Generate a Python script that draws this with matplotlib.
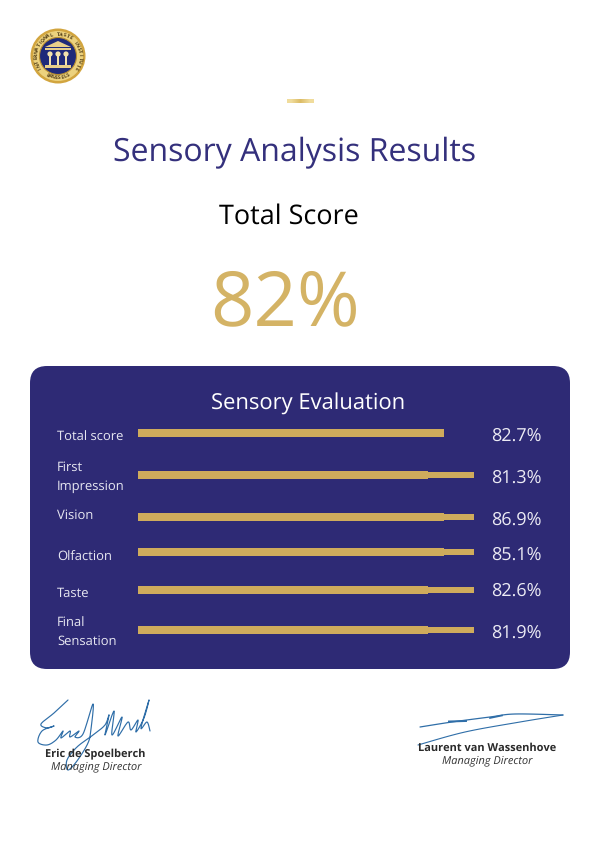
# -*- coding: utf-8 -*-
import numpy as np
import matplotlib.pyplot as plt
from matplotlib.colors import LinearSegmentedColormap
from matplotlib.patches import Circle, FancyBboxPatch, Polygon, Rectangle

plt.rcParams['font.family'] = ['Open Sans', 'Noto Sans', 'DejaVu Sans']
plt.rcParams['text.hinting'] = 'none'
plt.rcParams['text.hinting_factor'] = 1

# Chart data
categories = ['Total score', 'First\nImpression', 'Vision', 'Olfaction',
              'Taste', 'Final\nSensation']
score_labels = ['82.7%', '81.3%', '86.9%', '85.1%', '82.6%', '81.9%']
fill_values = [91.0, 86.4, 91.0, 91.0, 86.4, 86.4]
track_values = [91.0, 100.0, 100.0, 100.0, 100.0, 100.0]
row_y = [433, 475, 517, 552, 590, 630]
label_y = [437, 477, 515, 557, 593, 632.5]
score_y = [436, 478, 520, 555, 591, 633]

NAVY = '#2e2a75'
GOLD = '#cfab5c'
SIG = '#2f6ea8'

fig = plt.figure(figsize=(6.0, 8.49), dpi=100, facecolor='white')

# Page layer in pixel coordinates
ax = fig.add_axes([0, 0, 1, 1])
ax.set_xlim(0, 600)
ax.set_ylim(849, 0)
ax.axis('off')

# Accent dash with its soft gradient
dash_cmap = LinearSegmentedColormap.from_list('dash', ['#f0dc9c', '#dcbc66'])
ax.imshow(np.array([[0.0, 1.0, 0.0]]), extent=(287, 314, 103, 99),
          cmap=dash_cmap, aspect='auto', interpolation='bilinear')
ax.set_xlim(0, 600)
ax.set_ylim(849, 0)

ax.text(295, 153, 'Sensory Analysis Results', color='#34307c', fontsize=23,
        ha='center', va='center')
ax.text(289, 217, 'Total Score', color='black', fontsize=19.2,
        ha='center', va='center')
ax.text(285, 305, '82%', color='#d4b365', fontsize=55,
        ha='center', va='center')

# Panel
ax.add_patch(FancyBboxPatch((44, 380), 512, 275,
                            boxstyle='round,pad=14,rounding_size=17',
                            fc=NAVY, ec='none'))
ax.text(308, 404, 'Sensory Evaluation', color='white', fontsize=16.2,
        ha='center', va='center')

for cat, yy in zip(categories, label_y):
    ax.text(57, yy, cat, color='#e8e8f2', fontsize=9.2, ha='left', va='center',
            linespacing=1.55)
for lab, yy in zip(score_labels, score_y):
    ax.text(491, yy, lab, color='#ecebf4', fontsize=13, ha='left', va='center')

# Bars, on their own x scale (percent of the track)
bar_ax = fig.add_axes([138 / 600, 0, 336 / 600, 1], sharey=ax)
bar_ax.set_xlim(0, 100)
bar_ax.axis('off')
bar_ax.patch.set_alpha(0)
bar_ax.barh(row_y, track_values, height=5.5, color=GOLD)
bar_ax.barh(row_y, fill_values, height=7.5, color=GOLD)
ax.set_ylim(849, 0)

# Logo
cx, cy = 58, 56
ax.add_patch(Circle((cx, cy), 27.5, fc='#d2a53f', ec='none'))
ax.add_patch(Circle((cx, cy), 25, fc='#ecd27e', ec='none'))
ax.add_patch(Circle((cx, cy), 18.5, fc='#1f2a7a', ec='#b98f30', lw=0.8))
ax.add_patch(Polygon([(45, 47), (58, 41), (71, 47)], fc='#e8cf8a', ec='none'))
ax.add_patch(Rectangle((45, 48), 26, 2, fc='#e8cf8a', ec='none'))
ax.add_patch(Rectangle((45, 65), 26, 2.5, fc='#e8cf8a', ec='none'))
for px in [50, 58, 66]:
    ax.add_patch(Circle((px, 54), 2.6, fc='#f2e2ad', ec='none'))
    ax.add_patch(Rectangle((px - 0.6, 55), 1.2, 10, fc='#f2e2ad', ec='none'))
ring_text = 'INTERNATIONAL TASTE INSTITUTE'
for ch, ang in zip(ring_text, np.linspace(212, -32, len(ring_text))):
    a = np.deg2rad(ang)
    ax.text(cx + 21.7 * np.cos(a), cy - 21.7 * np.sin(a), ch, fontsize=3.4,
            color='#4a3510', weight='bold', ha='center', va='center',
            rotation=ang - 90)
for ch, ang in zip('BRUSSELS', np.linspace(-118, -62, 8)):
    a = np.deg2rad(ang)
    ax.text(cx + 21.7 * np.cos(a), cy - 21.7 * np.sin(a), ch, fontsize=3.4,
            color='#4a3510', weight='bold', ha='center', va='center',
            rotation=ang + 90)


# Signatures, traced as smooth strokes through hand picked knots
def stroke(knots, lw=0.8):
    k = np.array(knots, dtype=float)
    k = np.vstack([k[0], k, k[-1]])
    out = []
    for i in range(1, len(k) - 2):
        p0, p1, p2, p3 = k[i - 1], k[i], k[i + 1], k[i + 2]
        for t in np.linspace(0, 1, 12):
            out.append(0.5 * (2 * p1 + (p2 - p0) * t
                              + (2 * p0 - 5 * p1 + 4 * p2 - p3) * t ** 2
                              + (3 * p1 - p0 - 3 * p2 + p3) * t ** 3))
    out = np.array(out)
    ax.plot(out[:, 0], out[:, 1], color=SIG, lw=lw, solid_capstyle='round')


stroke([(68, 700), (54, 713), (41, 724), (47, 728), (54, 726), (42, 731),
        (38, 742), (47, 745), (56, 740), (63, 731), (61, 738), (70, 731),
        (70, 737), (79, 731), (75, 737), (83, 734), (93, 704), (91, 729),
        (88, 743), (77, 761), (68, 770), (67, 760), (77, 747), (93, 735),
        (105, 725), (109, 715), (105, 735), (114, 711), (112, 735), (122, 717),
        (118, 736), (128, 722), (131, 730), (138, 720), (136, 732), (144, 718),
        (149, 700), (141, 728), (147, 722), (150, 731)], lw=0.85)
stroke([(420, 727), (452, 722), (490, 717), (515, 714), (563, 715)], lw=0.9)
stroke([(563, 715), (520, 722), (465, 732), (418, 745)], lw=0.8)
ax.plot([449, 466], [721.5, 721], color=SIG, lw=1.4)
ax.plot([490, 502], [718, 715.5], color=SIG, lw=1.2)

ax.text(95.5, 754, 'Eric de Spoelberch', color='#2a2a2a', fontsize=7.8,
        weight='bold', ha='center', va='center')
ax.text(96, 767, 'Managing Director', color='#333333', fontsize=8.2,
        style='italic', ha='center', va='center')
ax.text(487, 748, 'Laurent van Wassenhove', color='#2a2a2a', fontsize=7.8,
        weight='bold', ha='center', va='center')
ax.text(487, 761, 'Managing Director', color='#333333', fontsize=8.2,
        style='italic', ha='center', va='center')

plt.savefig('out.png', dpi=100, facecolor='white')
